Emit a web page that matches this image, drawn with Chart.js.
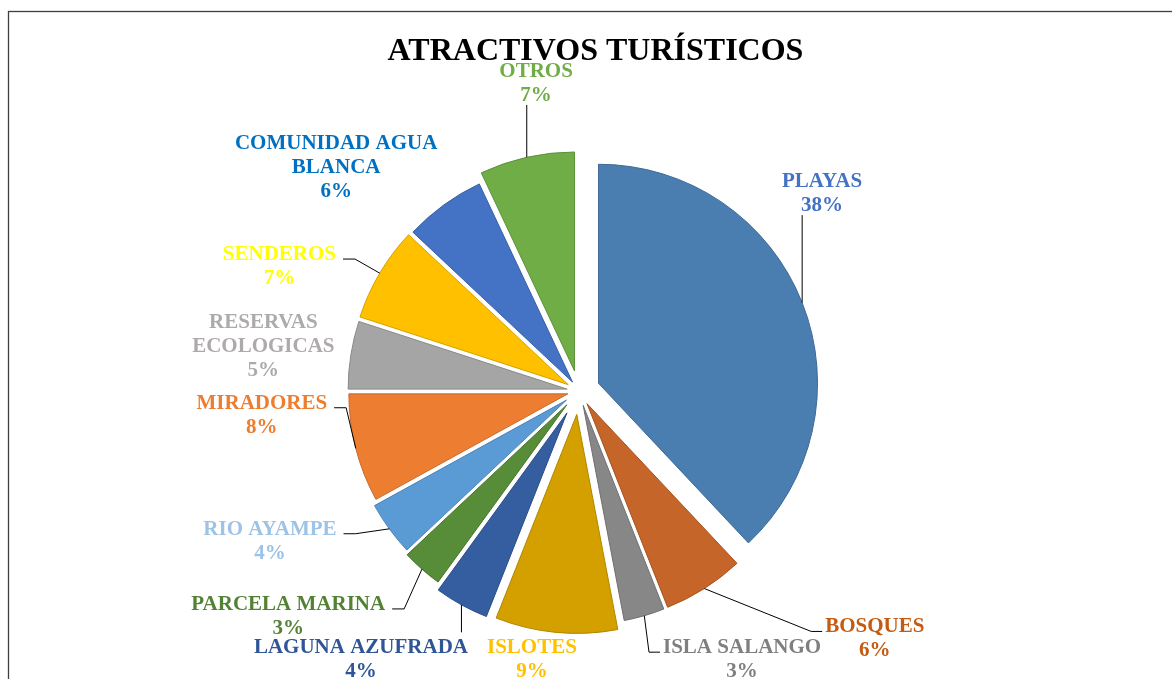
<!DOCTYPE html>
<html>
<head>
<meta charset="utf-8">
<title>Atractivos turísticos</title>
<script src="https://cdn.jsdelivr.net/npm/chart.js@4.4.1/dist/chart.umd.min.js"></script>
<style>
  html, body { margin: 0; padding: 0; background: #fff; }
</style>
</head>
<body>
<canvas id="myChart" width="1172" height="679"></canvas>
<script>
'use strict';

// data (percent of mentions)
var categories = ['PLAYAS', 'BOSQUES', 'ISLA SALANGO', 'ISLOTES', 'LAGUNA AZUFRADA',
                  'PARCELA MARINA', 'RIO AYAMPE', 'MIRADORES', 'RESERVAS ECOLOGICAS',
                  'SENDEROS', 'COMUNIDAD AGUA BLANCA', 'OTROS'];
var percents = [38, 6, 3, 9, 4, 3, 4, 8, 5, 7, 6, 7];
var chartTitle = 'ATRACTIVOS TURÍSTICOS';

// slice look
var sliceColors = ['#4a7eb0', '#c5652a', '#878787', '#d3a000', '#345e9f', '#578c38',
                   '#5b9bd5', '#ed7d31', '#a5a5a5', '#ffc000', '#4472c4', '#70ad47'];
var sliceBorders = ['#3d6a95', '#a5531f', '#707070', '#b08600', '#2a4d84', '#46742d',
                    '#4c84b6', '#c8682a', '#8a8a8a', '#d6a200', '#385fa5', '#5d913a'];
var labelColors = ['#4472c4', '#c55a11', '#7f7f7f', '#ffc000', '#2f5597', '#548235',
                   '#9dc3e6', '#ed7d31', '#aeaaaa', '#ffff00', '#0070c0', '#70ad47'];
// how far each slice is pulled out (px)
var explode = [21, 15, 15, 23.5, 25, 18.5, 15.5, 11.5, 12, 12.5, 11, 20.5];
// label placement: turn from the slice middle (deg) and distance from centre (px)
var labelTurn = [-17.7, -17.8, -15.2, 4.6, 10.4, 11, 10.3, 10.3, -0.7, -7.8, -11.2, 4.7];
var labelDist = [314, 385, 313, 271, 345, 367, 343, 318, 319, 325, 331, 312];

var labelFont = 'bold 21px "Liberation Serif", "Times New Roman", serif';
var lineH = 24;

function wrapText(ctx, text, maxW) {
   var words = text.split(' '), lines = [], cur = '';
   words.forEach(function (w) {
      var t = cur ? cur + ' ' + w : w;
      if (cur && ctx.measureText(t).width > maxW) {
         lines.push(cur);
         cur = w;
      } else {
         cur = t;
      }
   });
   lines.push(cur);
   return lines;
}

//draw each slice pulled out along its middle
var explodePlugin = {
   id: 'explodeSlices',
   beforeDatasetDraw: function (chart, args) {
      var ctx = chart.ctx;
      args.meta.data.forEach(function (arc, i) {
         var mid = (arc.startAngle + arc.endAngle) / 2;
         ctx.save();
         ctx.translate(Math.cos(mid) * explode[i], Math.sin(mid) * explode[i]);
         arc.draw(ctx);
         ctx.restore();
      });
      return false;
   }
};

//frame and title
var framePlugin = {
   id: 'frameTitle',
   beforeDraw: function (chart) {
      var ctx = chart.ctx;
      ctx.save();
      ctx.fillStyle = '#fff';
      ctx.fillRect(0, 0, chart.width, chart.height);
      ctx.strokeStyle = '#3f3f3f';
      ctx.lineWidth = 1.3;
      ctx.strokeRect(8.5, 11.5, chart.width + 20, chart.height + 20);
      ctx.restore();
   },
   afterDraw: function (chart) {
      var ctx = chart.ctx;
      ctx.save();
      ctx.font = 'bold 32px "Liberation Serif", "Times New Roman", serif';
      ctx.fillStyle = '#000';
      ctx.textAlign = 'center';
      ctx.textBaseline = 'alphabetic';
      ctx.fillText(chartTitle, 595.5, 60);
      ctx.restore();
   }
};

//outside labels with leader lines
var labelPlugin = {
   id: 'outLabels',
   afterDatasetsDraw: function (chart) {
      var ctx = chart.ctx;
      var meta = chart.getDatasetMeta(0);
      var total = percents.reduce(function (a, b) { return a + b; }, 0);
      ctx.save();
      ctx.font = labelFont;
      meta.data.forEach(function (arc, i) {
         var mid = (arc.startAngle + arc.endAngle) / 2;
         var R = arc.outerRadius + explode[i];
         var ex = arc.x + Math.cos(mid) * R, ey = arc.y + Math.sin(mid) * R;
         var la = mid + labelTurn[i] * Math.PI / 180;
         var lx = arc.x + Math.cos(la) * labelDist[i];
         var ly = arc.y + Math.sin(la) * labelDist[i];

         var lines = wrapText(ctx, categories[i], 230);
         lines.push(Math.round(percents[i] / total * 100) + '%');
         var n = lines.length;
         var w = 0;
         lines.forEach(function (t) { w = Math.max(w, ctx.measureText(t).width); });
         var left = lx - w / 2, right = lx + w / 2;
         var top = ly - (n - 1) * lineH / 2 - 7, bottom = ly + (n - 1) * lineH / 2 + 7;

         // leader line only when the label sits away from its slice
         var dx = Math.max(left - ex, 0, ex - right);
         var dy = Math.max(top - ey, 0, ey - bottom);
         if (Math.sqrt(dx * dx + dy * dy) > 20) {
            ctx.strokeStyle = '#000';
            ctx.lineWidth = 1;
            ctx.beginPath();
            ctx.moveTo(ex, ey);
            if (ex >= left && ex <= right) {
               ctx.lineTo(ex, ey > bottom ? bottom + 4 : top - 7);
            } else if (ex > right) {
               ctx.lineTo(right + 19, ly - 6);
               ctx.lineTo(right + 7, ly - 6);
            } else {
               ctx.lineTo(left - 14, ly - 6);
               ctx.lineTo(left - 3, ly - 6);
            }
            ctx.stroke();
         }

         ctx.fillStyle = labelColors[i];
         ctx.textAlign = 'center';
         ctx.textBaseline = 'alphabetic';
         lines.forEach(function (t, k) {
            ctx.fillText(t, lx, ly - (n - 1) * lineH / 2 + k * lineH + 7);
         });
      });
      ctx.restore();
   }
};

var ctx = document.getElementById('myChart').getContext('2d');
var myPieChart = new Chart(ctx, {
   type: 'pie',
   data: {
      labels: categories,
      datasets: [{
         data: percents,
         backgroundColor: sliceColors,
         borderColor: sliceBorders,
         borderWidth: 1
      }]
   },
   options: {
      responsive: false,
      animation: false,
      events: [],
      radius: 219,
      layout: { padding: { top: 103, right: 14, bottom: 0, left: 0 } },
      plugins: {
         legend: { display: false },
         title: { display: false },
         tooltip: { enabled: false }
      }
   },
   plugins: [framePlugin, explodePlugin, labelPlugin]
});
</script>
</body>
</html>
